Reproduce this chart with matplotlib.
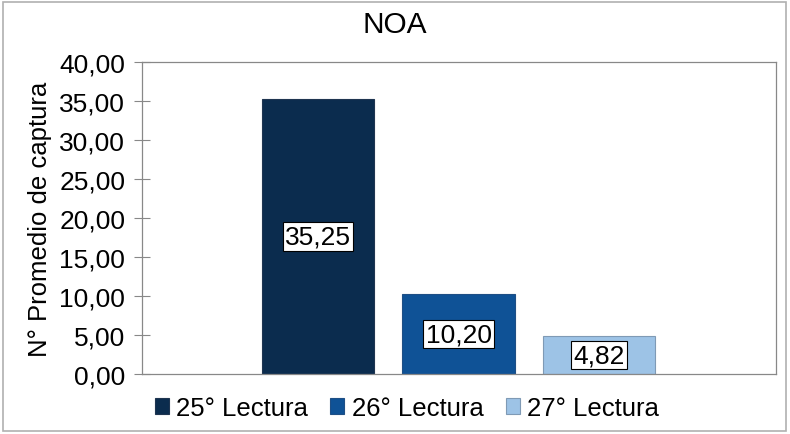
import matplotlib.pyplot as plt
from matplotlib.patches import Rectangle

plt.rcParams['font.family'] = ['Liberation Sans', 'DejaVu Sans']

# Data
series = ["25° Lectura", "26° Lectura", "27° Lectura"]
values = [35.25, 10.20, 4.82]
colors = ["#0B2C4E", "#0F5296", "#9DC3E6"]
edges = ["#1F3550", "#1F4F85", "#7F9AB5"]
yticks = [0, 5, 10, 15, 20, 25, 30, 35, 40]

fig = plt.figure(figsize=(7.9, 4.35), dpi=100)
ax = fig.add_axes([142 / 790, 1 - 375 / 435, (776 - 142) / 790, (375 - 63) / 435])

for i, (v, c, e, s) in enumerate(zip(values, colors, edges, series)):
    ax.bar(i, v, width=0.8, color=c, edgecolor=e, linewidth=0.8, label=s, zorder=2)
    ax.text(i, v / 2, f"{v:.2f}".replace(".", ","), ha="center", va="center",
            fontsize=19, color="black", zorder=3,
            bbox=dict(boxstyle="square,pad=0.08", facecolor="white",
                      edgecolor="black", linewidth=0.8))

ax.set_xlim(-1.253, 3.26)
ax.set_ylim(0, 40)
ax.set_yticks(yticks)
ax.set_yticklabels([f"{t:.2f}".replace(".", ",") for t in yticks], fontsize=19)
ax.set_xticks([])
ax.tick_params(axis="y", direction="inout", length=12, width=0.8, color="#888888", pad=6)
for sp in ax.spines.values():
    sp.set_color("#888888")
    sp.set_linewidth(0.9)

ax.set_ylabel("N° Promedio de captura", fontsize=18.5, labelpad=5)
fig.text(0.5, 1 - 25 / 435, "NOA", ha="center", va="center", fontsize=21.5)

leg = fig.legend(loc="center", bbox_to_anchor=(407 / 790, 1 - 409 / 435), ncol=3,
                 frameon=False, fontsize=18.5, handlelength=0.55, handleheight=0.55,
                 handletextpad=0.3, columnspacing=0.85)

# outer border
fig.patches.append(Rectangle((3 / 790, 3 / 435), 1 - 7 / 790, 1 - 6 / 435,
                             transform=fig.transFigure, fill=False,
                             edgecolor="#B0B0B0", linewidth=1.2))

fig.savefig("out.png", dpi=100)
